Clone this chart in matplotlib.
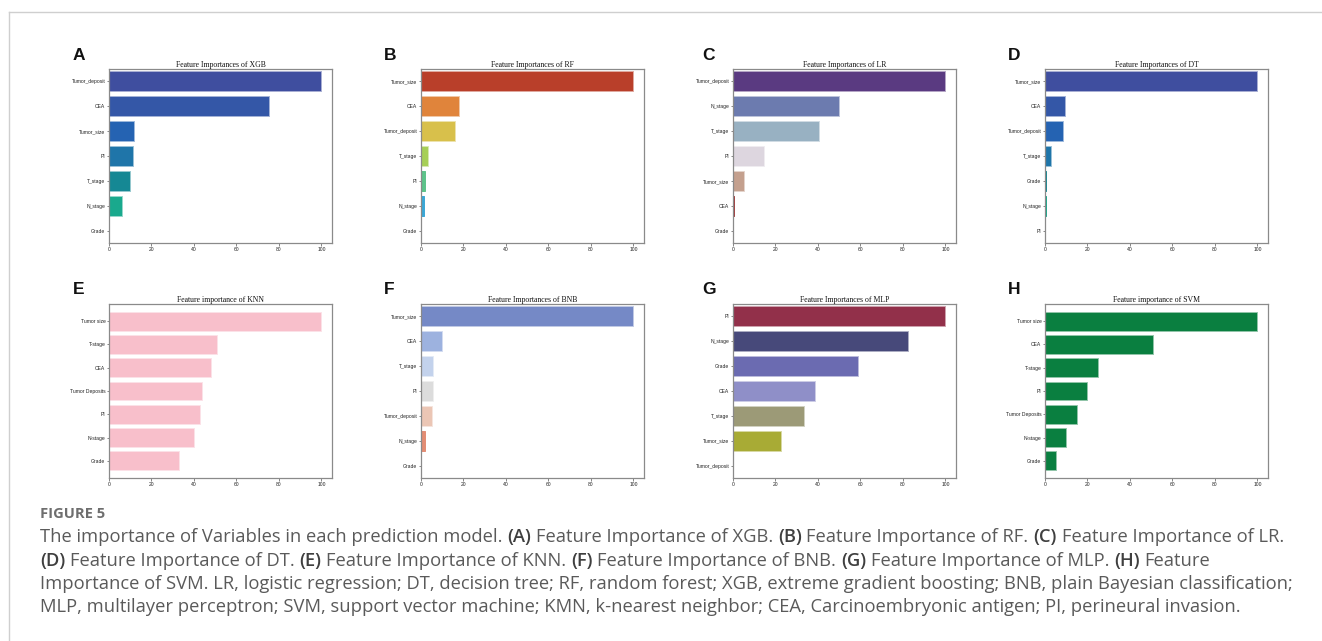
import matplotlib
matplotlib.use("Agg")
import matplotlib.pyplot as plt
from matplotlib.lines import Line2D
from matplotlib.colors import to_rgb

W, H = 1322, 641

# ---- data -------------------------------------------------------------
xgb_features = ["Tumor_deposit", "CEA", "Tumor_size", "PI", "T_stage", "N_stage", "Grade"]
xgb_values = [100, 75.5, 11.8, 11.3, 9.9, 6.1, 0]
xgb_colors = ["#3F4E9F", "#3457A7", "#2563B2", "#1F75A9", "#158894", "#19A98D", "#2FB57B"]

rf_features = ["Tumor_size", "CEA", "Tumor_deposit", "T_stage", "PI", "N_stage", "Grade"]
rf_values = [100, 17.7, 16.1, 3.4, 2.0, 1.4, 0]
rf_colors = ["#B93F2A", "#E0843B", "#D8C04B", "#A6CF57", "#5DC38A", "#3AA7D6", "#6A5FB0"]

lr_features = ["Tumor_deposit", "N_stage", "T_stage", "PI", "Tumor_size", "CEA", "Grade"]
lr_values = [100, 49.8, 40.5, 14.7, 5.3, 0.6, 0]
lr_colors = ["#5A3A81", "#6C7BAF", "#98B1C2", "#DDD6DF", "#C4A08E", "#A33C3C", "#6A2A4A"]

dt_features = ["Tumor_size", "CEA", "Tumor_deposit", "T_stage", "Grade", "N_stage", "PI"]
dt_values = [100, 9.2, 8.5, 2.8, 0.6, 0.3, 0]
dt_colors = ["#3F4E9F", "#3457A7", "#2563B2", "#1F75A9", "#158894", "#19A98D", "#2FB57B"]

knn_features = ["Tumor size", "T-stage", "CEA", "Tumor Deposits", "PI", "N-stage", "Grade"]
knn_values = [100, 50.8, 47.8, 43.9, 42.8, 39.8, 32.9]
knn_color = "#F8BFCB"

bnb_features = ["Tumor_size", "CEA", "T_stage", "PI", "Tumor_deposit", "N_stage", "Grade"]
bnb_values = [100, 9.7, 5.8, 5.5, 5.4, 1.9, 0]
bnb_colors = ["#7589C6", "#9DB2DF", "#C3D2EC", "#DCDCDC", "#EBC6B5", "#E38D74", "#C44E3F"]

mlp_features = ["PI", "N_stage", "Grade", "CEA", "T_stage", "Tumor_size", "Tumor_deposit"]
mlp_values = [100, 82.3, 58.8, 38.7, 33.2, 22.7, 0]
mlp_colors = ["#92304A", "#47497A", "#6B6BB1", "#8F8FC8", "#9C9A77", "#A8AB35", "#8B8B3A"]

svm_features = ["Tumor size", "CEA", "T-stage", "PI", "Tumor Deposits", "N-stage", "Grade"]
svm_values = [100, 51, 25, 20, 15, 10, 5]
svm_color = "#0A7F40"

x_ticks = [0, 20, 40, 60, 80, 100]

panels = [
    ("A", "Feature Importances of XGB", xgb_features, xgb_values, xgb_colors, "sns"),
    ("B", "Feature Importances of RF", rf_features, rf_values, rf_colors, "sns"),
    ("C", "Feature Importances of LR", lr_features, lr_values, lr_colors, "sns"),
    ("D", "Feature Importances of DT", dt_features, dt_values, dt_colors, "sns"),
    ("E", "Feature importance of KNN", knn_features, knn_values, [knn_color] * 7, "mpl"),
    ("F", "Feature Importances of BNB", bnb_features, bnb_values, bnb_colors, "sns"),
    ("G", "Feature Importances of MLP", mlp_features, mlp_values, mlp_colors, "sns"),
    ("H", "Feature importance of SVM", svm_features, svm_values, [svm_color] * 7, "mpl"),
]

# ---- layout (pixels) --------------------------------------------------
ax_lefts = [109, 421, 733, 1045]
ax_tops = [69, 304]
ax_w, ax_h = 223, 174
letter_x = [73, 384, 702, 1008]
letter_y = [55, 289]

fig = plt.figure(figsize=(W / 100, H / 100), dpi=100)
fig.patch.set_facecolor("white")


def lighten(c, f):
    r, g, b = to_rgb(c)
    return (r + (1 - r) * f, g + (1 - g) * f, b + (1 - b) * f)


for i, (letter, title, feats, vals, cols, style) in enumerate(panels):
    row, col = divmod(i, 4)
    left = ax_lefts[col]
    top = ax_tops[row]
    ax = fig.add_axes([left / W, 1 - (top + ax_h) / H, ax_w / W, ax_h / H])
    ypos = list(range(len(feats)))
    edges = [lighten(c, 0.55) if v > 2 else c for c, v in zip(cols, vals)]
    ax.barh(ypos, vals, height=0.8, color=cols, edgecolor=edges, linewidth=0.7)
    if style == "sns":
        ax.set_ylim(len(feats) - 0.5, -0.5)
    else:
        ax.invert_yaxis()
    ax.set_xlim(0, 105)
    ax.set_xticks(x_ticks)
    ax.set_yticks(ypos)
    ax.set_yticklabels(feats)
    ax.tick_params(axis="both", labelsize=3.6, length=1.8, width=0.5,
                   color="#555555", pad=0.8, labelcolor="#222222")
    for lab in ax.get_xticklabels() + ax.get_yticklabels():
        lab.set_fontfamily("Liberation Sans")
    for sp in ax.spines.values():
        sp.set_color("#8a8a8a")
        sp.set_linewidth(0.9)
    ax.set_title(title, fontsize=5.6, family="Liberation Serif", color="#111111", pad=1.2)
    fig.text(letter_x[col] / W, 1 - letter_y[row] / H, letter, fontsize=12.5,
             fontweight="bold", family="Liberation Sans", ha="left", va="center",
             color="#111111")

# ---- page frame -------------------------------------------------------
fig.add_artist(Line2D([9.3 / W, 1.0], [1 - 12 / H, 1 - 12 / H], color="#cfcfcf", lw=1.0))
fig.add_artist(Line2D([9.3 / W, 9.3 / W], [1 - 12 / H, 0.0], color="#cfcfcf", lw=1.0))

# ---- caption ----------------------------------------------------------
fig.text(40 / W, 1 - 514 / H, "FIGURE 5", fontsize=10.6, fontweight="bold",
         family="Open Sans", color="#6e6e6e", ha="left", va="center")

caption_lines = [
    [("The importance of Variables in each prediction model.", False), ("(A)", True),
     ("Feature Importance of XGB.", False), ("(B)", True),
     ("Feature Importance of RF.", False), ("(C)", True), ("Feature Importance of LR.", False)],
    [("(D)", True), ("Feature Importance of DT.", False), ("(E)", True),
     ("Feature Importance of KNN.", False), ("(F)", True), ("Feature Importance of BNB.", False),
     ("(G)", True), ("Feature Importance of MLP.", False), ("(H)", True), ("Feature", False)],
    [("Importance of SVM. LR, logistic regression; DT, decision tree; RF, random forest; "
      "XGB, extreme gradient boosting; BNB, plain Bayesian classification;", False)],
    [("MLP, multilayer perceptron; SVM, support vector machine; KMN, k-nearest neighbor; "
      "CEA, Carcinoembryonic antigen; PI, perineural invasion.", False)],
]
caption_y = [537, 561, 584, 607]
cap_size = 13.2
renderer = fig.canvas.get_renderer()


def text_width(s, bold):
    t = fig.text(0, 0, s, fontsize=cap_size, family="Open Sans",
                 fontweight="bold" if bold else "normal")
    w = t.get_window_extent(renderer=renderer).width
    t.remove()
    return w


space_w = text_width("a a", False) - text_width("aa", False)

for runs, y in zip(caption_lines, caption_y):
    x = 40.0
    for j, (s, bold) in enumerate(runs):
        t = fig.text(x / W, 1 - y / H, s, fontsize=cap_size, family="Open Sans",
                     fontweight="semibold" if bold else "normal",
                     color="#3f3f3f" if bold else "#5a5a5a", ha="left", va="center")
        x += t.get_window_extent(renderer=renderer).width + space_w

fig.savefig("out.png", dpi=100)
